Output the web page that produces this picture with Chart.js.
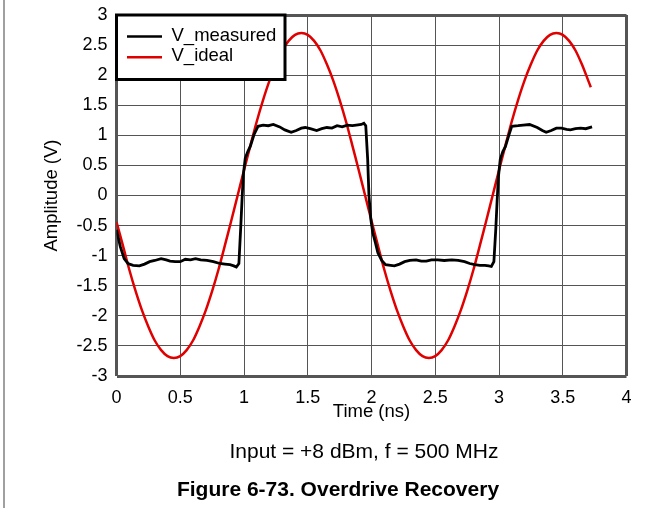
<!DOCTYPE html>
<html>
<head>
<meta charset="utf-8">
<script src="https://cdn.jsdelivr.net/npm/chart.js@4"></script>
<style>
  html, body { margin: 0; padding: 0; background: #fff; }
  #wrap { position: relative; width: 661px; height: 508px; }
  #edge { position: absolute; left: 3px; top: 0; width: 0; height: 508px; border-left: 2px solid #a0a0a0; }
  canvas { position: absolute; left: 0; top: 0; }
</style>
</head>
<body>
<div id="wrap">
  <div id="edge"></div>
  <canvas id="plot" width="661" height="508"></canvas>
</div>
<script>
// Overdrive recovery: measured output vs ideal 500 MHz sine
const xTickValues = [0, 0.5, 1, 1.5, 2, 2.5, 3, 3.5, 4];
const xTickLabels = ['0', '0.5', '1', '1.5', '2', '2.5', '3', '3.5', '4'];
const yTickValues = [-3, -2.5, -2, -1.5, -1, -0.5, 0, 0.5, 1, 1.5, 2, 2.5, 3];
const yTickLabels = ['-3', '-2.5', '-2', '-1.5', '-1', '-0.5', '0', '0.5', '1', '1.5', '2', '2.5', '3'];

const seriesNames = ['V_measured', 'V_ideal'];
const seriesColors = ['#000000', '#e00000'];

const idealTime = [
  0, 0.05, 0.1, 0.15, 0.2, 0.25, 0.3, 0.35, 0.4, 0.45,
  0.5, 0.55, 0.6, 0.65, 0.7, 0.75, 0.8, 0.85, 0.9, 0.95,
  1, 1.05, 1.1, 1.15, 1.2, 1.25, 1.3, 1.35, 1.4, 1.45,
  1.5, 1.55, 1.6, 1.65, 1.7, 1.75, 1.8, 1.85, 1.9, 1.95,
  2, 2.05, 2.1, 2.15, 2.2, 2.25, 2.3, 2.35, 2.4, 2.45,
  2.5, 2.55, 2.6, 2.65, 2.7, 2.75, 2.8, 2.85, 2.9, 2.95,
  3, 3.05, 3.1, 3.15, 3.2, 3.25, 3.3, 3.35, 3.4, 3.45,
  3.5, 3.55, 3.6, 3.65, 3.7, 3.72
];
const idealVolts = [
  -0.44, -0.83, -1.23, -1.59, -1.91, -2.18, -2.41, -2.57, -2.67, -2.70,
  -2.67, -2.57, -2.41, -2.18, -1.91, -1.59, -1.23, -0.83, -0.42, 0,
  0.42, 0.83, 1.23, 1.59, 1.91, 2.18, 2.41, 2.57, 2.67, 2.70,
  2.67, 2.57, 2.41, 2.18, 1.91, 1.59, 1.23, 0.83, 0.42, 0,
  -0.42, -0.83, -1.23, -1.59, -1.91, -2.18, -2.41, -2.57, -2.67, -2.70,
  -2.67, -2.57, -2.41, -2.18, -1.91, -1.59, -1.23, -0.83, -0.42, 0,
  0.42, 0.83, 1.23, 1.59, 1.91, 2.18, 2.41, 2.57, 2.67, 2.70,
  2.67, 2.57, 2.41, 2.18, 1.91, 1.80
];

const measuredTime = [
  0, 0.03, 0.06, 0.09, 0.13, 0.18, 0.22, 0.26, 0.30, 0.35,
  0.39, 0.42, 0.46, 0.50, 0.54, 0.58, 0.62, 0.66, 0.71, 0.76,
  0.81, 0.85, 0.89, 0.92, 0.94, 0.96, 0.975, 0.985, 0.995, 1.01,
  1.03, 1.05, 1.08, 1.11, 1.15, 1.19, 1.23, 1.28, 1.32, 1.37,
  1.41, 1.45, 1.48, 1.52, 1.57, 1.61, 1.65, 1.69, 1.73, 1.77,
  1.81, 1.85, 1.88, 1.92, 1.94, 1.955, 1.97, 1.98, 1.995, 2.01,
  2.03, 2.05, 2.08, 2.11, 2.15, 2.18, 2.22, 2.26, 2.30, 2.35,
  2.39, 2.43, 2.47, 2.52, 2.57, 2.63, 2.68, 2.73, 2.77, 2.81,
  2.85, 2.89, 2.92, 2.94, 2.96, 2.975, 2.985, 2.995, 3.01, 3.03,
  3.05, 3.08, 3.10, 3.15, 3.19, 3.24, 3.30, 3.34, 3.37, 3.41,
  3.45, 3.49, 3.53, 3.56, 3.60, 3.64, 3.68, 3.73
];
const measuredVolts = [
  -0.57, -0.85, -1.05, -1.13, -1.16, -1.17, -1.14, -1.10, -1.08, -1.05,
  -1.07, -1.09, -1.10, -1.10, -1.06, -1.07, -1.05, -1.07, -1.08, -1.10,
  -1.13, -1.14, -1.15, -1.17, -1.19, -1.13, -0.50, -0.05, 0.35, 0.62,
  0.73, 0.82, 1.02, 1.15, 1.17, 1.16, 1.18, 1.14, 1.09, 1.05,
  1.08, 1.12, 1.13, 1.11, 1.08, 1.11, 1.13, 1.12, 1.16, 1.14,
  1.17, 1.16, 1.17, 1.18, 1.20, 1.16, 0.60, 0.00, -0.40, -0.62,
  -0.78, -0.95, -1.08, -1.15, -1.16, -1.17, -1.14, -1.10, -1.08, -1.07,
  -1.09, -1.09, -1.07, -1.07, -1.08, -1.07, -1.08, -1.10, -1.13, -1.15,
  -1.16, -1.16, -1.17, -1.18, -1.10, -0.55, -0.10, 0.30, 0.60, 0.73,
  0.81, 1.02, 1.15, 1.16, 1.17, 1.18, 1.13, 1.08, 1.05, 1.08,
  1.12, 1.12, 1.10, 1.09, 1.11, 1.12, 1.11, 1.14
];

const subtitleText = 'Input = +8 dBm, f = 500 MHz';
const captionText = 'Figure 6-73. Overdrive Recovery';

const FONT = '"Liberation Sans", Arial, sans-serif';

const toPoints = (xs, ys) => xs.map((x, i) => ({ x, y: ys[i] }));

const edgeWidth = (values) => (ctx) => {
  const v = ctx.tick && ctx.tick.value;
  return (v === values[0] || v === values[values.length - 1]) ? 3 : 1;
};

// legend box + bottom captions drawn on top of the plot
const overlayPlugin = {
  id: 'overlay',
  afterDraw(chart) {
    const ctx = chart.ctx;
    const area = chart.chartArea;
    ctx.save();

    // legend
    const bx = area.left, by = area.top, bw = 168.5, bh = 64.5;
    ctx.fillStyle = '#ffffff';
    ctx.fillRect(bx, by, bw, bh);
    ctx.strokeStyle = '#000000';
    ctx.lineWidth = 3;
    ctx.strokeRect(bx, by, bw, bh);
    ctx.font = '18.5px ' + FONT;
    ctx.textBaseline = 'middle';
    ctx.textAlign = 'left';
    chart.data.datasets.forEach((ds, i) => {
      const y = by + 21.5 + i * 20.8;
      ctx.strokeStyle = ds.borderColor;
      ctx.lineWidth = 2.5;
      ctx.beginPath();
      ctx.moveTo(bx + 10.5, y);
      ctx.lineTo(bx + 45.5, y);
      ctx.stroke();
      ctx.fillStyle = '#000000';
      ctx.fillText(ds.label, bx + 55, y - 1);
    });

    // caption lines under the chart
    ctx.textAlign = 'center';
    ctx.fillStyle = '#000000';
    ctx.font = '21px ' + FONT;
    ctx.fillText(subtitleText, 364, 452);
    ctx.font = 'bold 21px ' + FONT;
    ctx.fillText(captionText, 338, 490);
    ctx.restore();
  }
};

const canvas = document.getElementById('plot');
new Chart(canvas, {
  type: 'scatter',
  data: {
    datasets: [
      {
        label: seriesNames[0],
        data: toPoints(measuredTime, measuredVolts),
        showLine: true,
        borderColor: seriesColors[0],
        backgroundColor: seriesColors[0],
        borderWidth: 2.8,
        pointRadius: 0,
        tension: 0
      },
      {
        label: seriesNames[1],
        data: toPoints(idealTime, idealVolts),
        showLine: true,
        borderColor: seriesColors[1],
        backgroundColor: seriesColors[1],
        borderWidth: 2.5,
        pointRadius: 0,
        tension: 0.3
      }
    ]
  },
  plugins: [overlayPlugin],
  options: {
    responsive: false,
    animation: false,
    devicePixelRatio: 1,
    layout: { padding: { left: 41, right: 34.5, top: 15, bottom: 84.9 } },
    plugins: {
      legend: { display: false },
      tooltip: { enabled: false }
    },
    scales: {
      x: {
        type: 'linear',
        min: 0,
        max: 4,
        afterBuildTicks: (s) => { s.ticks = xTickValues.map(v => ({ value: v })); },
        afterFit: (s) => { s.height = 47.1; },
        ticks: {
          color: '#000000',
          padding: 11,
          maxRotation: 0,
          autoSkip: false,
          font: { family: FONT, size: 18 },
          callback: (v) => xTickLabels[xTickValues.indexOf(v)]
        },
        grid: { color: '#555555', lineWidth: edgeWidth(xTickValues), drawTicks: false },
        border: { display: false },
        title: {
          display: true,
          text: 'Time (ns)',
          color: '#000000',
          padding: 0,
          font: { family: FONT, size: 18.5 }
        }
      },
      y: {
        type: 'linear',
        min: -3,
        max: 3,
        afterBuildTicks: (s) => { s.ticks = yTickValues.map(v => ({ value: v })); },
        afterFit: (s) => { s.width = 75.5; s.paddingTop = 0; s.paddingBottom = 0; },
        ticks: {
          color: '#000000',
          padding: 9,
          autoSkip: false,
          font: { family: FONT, size: 18 },
          callback: (v) => yTickLabels[yTickValues.indexOf(v)]
        },
        grid: { color: '#555555', lineWidth: edgeWidth(yTickValues), drawTicks: false },
        border: { display: false },
        title: {
          display: true,
          text: 'Amplitude (V)',
          color: '#000000',
          padding: 0,
          font: { family: FONT, size: 18.5 }
        }
      }
    }
  }
});
</script>
</body>
</html>
